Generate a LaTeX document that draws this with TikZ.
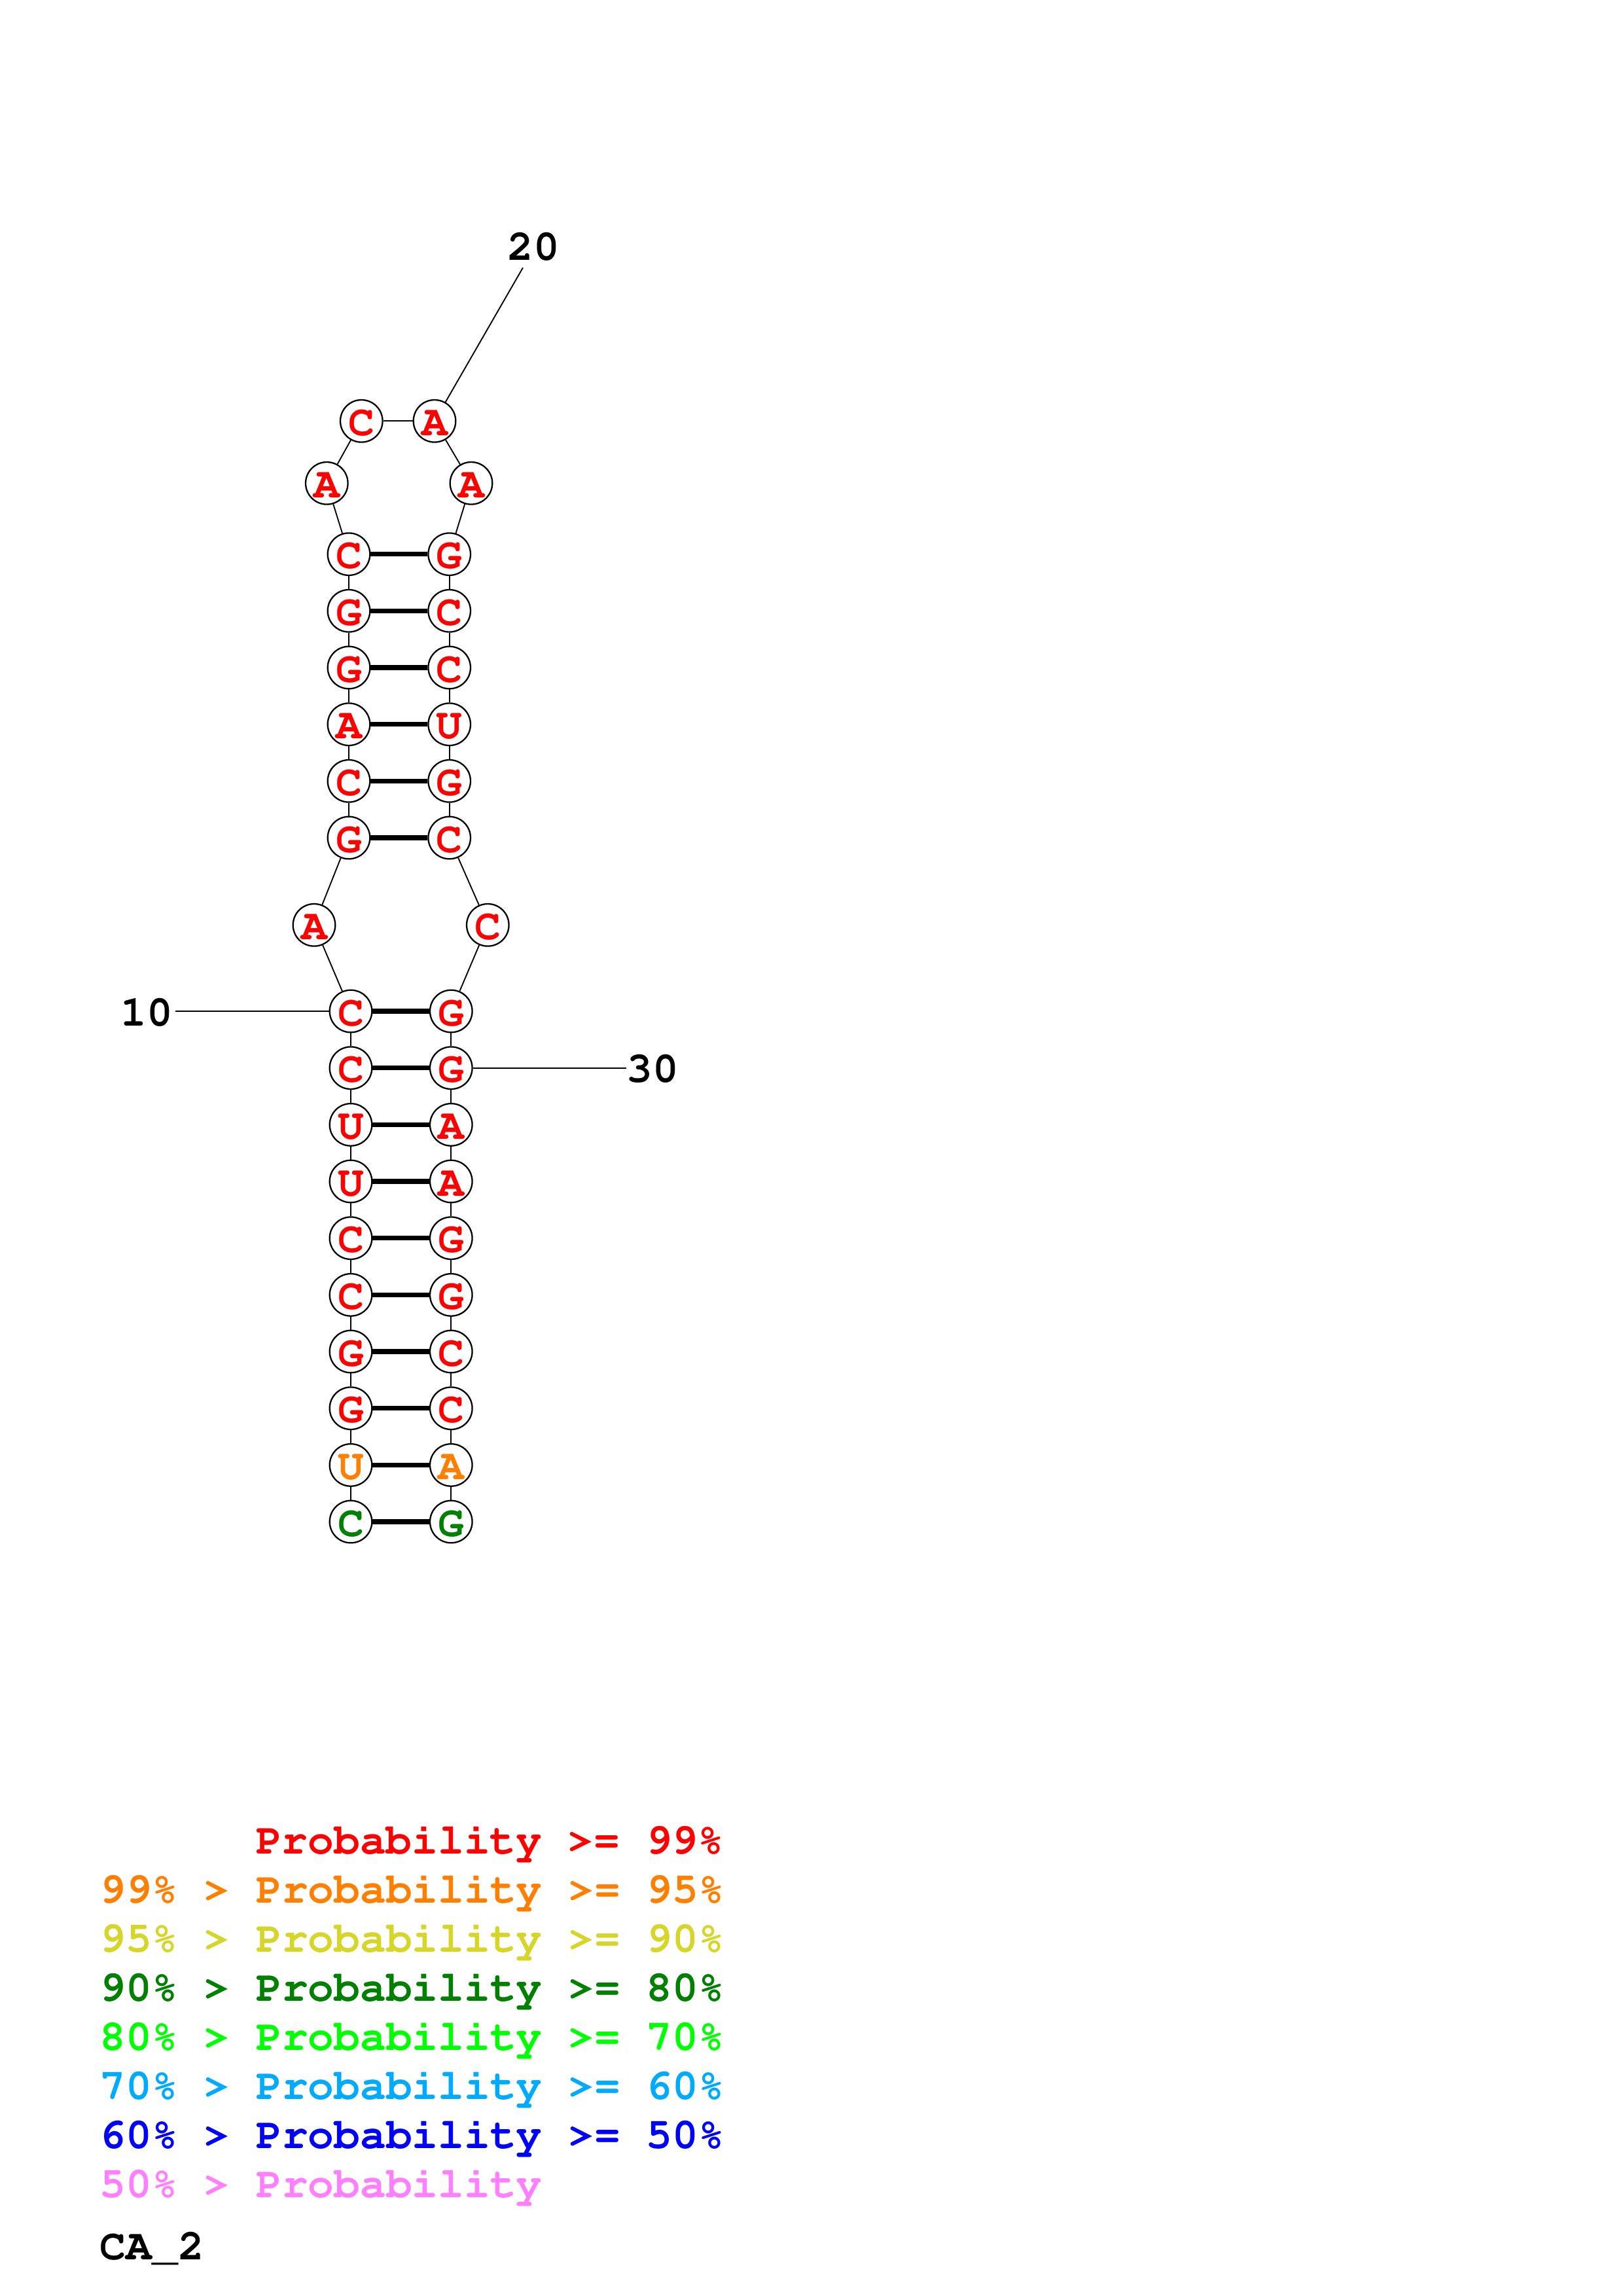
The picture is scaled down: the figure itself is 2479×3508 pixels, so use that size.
\documentclass[tikz,border=0pt]{standalone}
\usepackage[T1]{fontenc}
\newcommand\crbfont{\fontencoding{T1}\fontfamily{pcr}\fontseries{b}\fontshape{n}\fontsize{15.9pt}{18pt}\selectfont}
\definecolor{pRed}{RGB}{255,0,0}
\definecolor{pOrange}{RGB}{255,128,0}
\definecolor{pYellow}{RGB}{213,213,42}
\definecolor{pDkGreen}{RGB}{0,128,0}
\definecolor{pGreen}{RGB}{0,255,0}
\definecolor{pLtBlue}{RGB}{0,170,255}
\definecolor{pBlue}{RGB}{0,0,255}
\definecolor{pPink}{RGB}{255,128,255}
\begin{document}
\begin{tikzpicture}[x=0.24pt,y=-0.24pt,
  nt/.style={circle,draw,line width=0.55pt,inner sep=0pt,minimum size=15.5pt,
     text height=10.6pt,text depth=0pt,font=\crbfont,text=pRed},
  bb/.style={line width=0.45pt},
  bp/.style={line width=1.7pt},
  ll/.style={line width=0.45pt},
  lbl/.style={font=\crbfont,inner sep=0pt},
  leg/.style={font=\crbfont,inner sep=0pt,anchor=base west}]
\useasboundingbox (0,0) rectangle (2479,3508);
% left strand of outer stem (1-10)
\node[nt,text=pDkGreen] (n1) at (536,2325) {C};
\node[nt,text=pOrange] (n2) at (536,2238.4) {U};
\node[nt] (n3) at (536,2151.7) {G};
\node[nt] (n4) at (536,2065) {G};
\node[nt] (n5) at (536,1978.4) {C};
\node[nt] (n6) at (536,1891.7) {C};
\node[nt] (n7) at (536,1805) {U};
\node[nt] (n8) at (536,1718.4) {U};
\node[nt] (n9) at (536,1631.7) {C};
\node[nt] (n10) at (536,1545) {C};
\node[nt] (n11) at (480,1413.3) {A};
% left strand of inner stem
\node[nt] (n12) at (533,1280) {G};
\node[nt] (n13) at (533,1193.3) {C};
\node[nt] (n14) at (533,1106.7) {A};
\node[nt] (n15) at (533,1020) {G};
\node[nt] (n16) at (533,933.3) {G};
\node[nt] (n17) at (533,846.7) {C};
% hairpin
\node[nt] (n18) at (499.3,738.3) {A};
\node[nt] (n19) at (552.3,643.3) {C};
\node[nt] (n20) at (664,643.3) {A};
\node[nt] (n21) at (720,738.3) {A};
% right strand of inner stem
\node[nt] (n22) at (686.7,846.7) {G};
\node[nt] (n23) at (686.7,933.3) {C};
\node[nt] (n24) at (686.7,1020) {C};
\node[nt] (n25) at (686.7,1106.7) {U};
\node[nt] (n26) at (686.7,1193.3) {G};
\node[nt] (n27) at (686.7,1280) {C};
\node[nt] (n28) at (745.3,1413.3) {C};
% right strand of outer stem
\node[nt] (n29) at (689.3,1545) {G};
\node[nt] (n30) at (689.3,1631.7) {G};
\node[nt] (n31) at (689.3,1718.4) {A};
\node[nt] (n32) at (689.3,1805) {A};
\node[nt] (n33) at (689.3,1891.7) {G};
\node[nt] (n34) at (689.3,1978.4) {G};
\node[nt] (n35) at (689.3,2065) {C};
\node[nt] (n36) at (689.3,2151.7) {C};
\node[nt,text=pOrange] (n37) at (689.3,2238.4) {A};
\node[nt,text=pDkGreen] (n38) at (689.3,2325) {G};
% backbone
\foreach \i in {1,...,37}{
  \pgfmathtruncatemacro\j{\i+1}
  \draw[bb] (n\i) -- (n\j);
}
% base pairs
\foreach \a/\b in {1/38,2/37,3/36,4/35,5/34,6/33,7/32,8/31,9/30,10/29,12/27,13/26,14/25,15/24,16/23,17/22}
  \draw[bp] (n\a) -- (n\b);
% position labels
\coordinate (c10) at (268,1545);
\coordinate (c20) at (799,409);
\coordinate (c30) at (956.7,1631.7);
\draw[ll] (n10) -- (c10);
\draw[ll] (n20) -- (c20);
\draw[ll] (n30) -- (c30);
\node[lbl] (t10) at (224,1547) {10};
\node[lbl] (t20) at (815.5,377.5) {20};
\node[lbl] (t30) at (997.5,1633) {30};
% legend
\node[leg,text=pRed] (g1) at (390.2,2832) {Probability >= 99\%};
\node[leg,text=pOrange] (g2) at (152,2907.1) {99\% > Probability >= 95\%};
\node[leg,text=pYellow] (g3) at (152,2982.2) {95\% > Probability >= 90\%};
\node[leg,text=pDkGreen] (g4) at (152,3057.3) {90\% > Probability >= 80\%};
\node[leg,text=pGreen] (g5) at (152,3132.4) {80\% > Probability >= 70\%};
\node[leg,text=pLtBlue] (g6) at (152,3207.5) {70\% > Probability >= 60\%};
\node[leg,text=pBlue] (g7) at (152,3282.6) {60\% > Probability >= 50\%};
\node[leg,text=pPink] (g8) at (152,3357.7) {50\% > Probability};
\node[leg,text=black] (g9) at (152,3452.5) {CA\_2};
\end{tikzpicture}
\end{document}
